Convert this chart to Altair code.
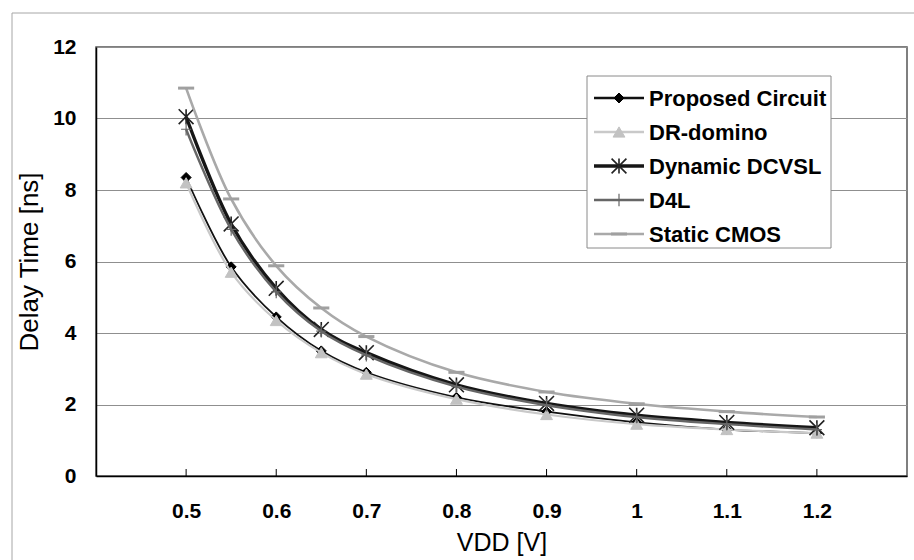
import altair as alt
import pandas as pd

# Supply voltage sweep (V) and delay per logic style (ns)
VDD = [0.5, 0.55, 0.6, 0.65, 0.7, 0.8, 0.9, 1.0, 1.1, 1.2]
PROPOSED = [8.35, 5.85, 4.45, 3.5, 2.9, 2.2, 1.8, 1.5, 1.3, 1.2]
DR_DOMINO = [8.2, 5.7, 4.35, 3.45, 2.85, 2.15, 1.72, 1.45, 1.3, 1.2]
DCVSL = [10.05, 7.05, 5.25, 4.1, 3.45, 2.55, 2.03, 1.7, 1.5, 1.35]
D4L = [9.7, 6.9, 5.15, 4.05, 3.38, 2.5, 1.98, 1.65, 1.45, 1.3]
STATIC_CMOS = [10.85, 7.75, 5.88, 4.7, 3.9, 2.9, 2.35, 2.02, 1.8, 1.65]
SERIES = ["Proposed Circuit", "DR-domino", "Dynamic DCVSL", "D4L", "Static CMOS"]
X_TICKS = [0.5, 0.6, 0.7, 0.8, 0.9, 1.0, 1.1, 1.2]
Y_TICKS = [0, 2, 4, 6, 8, 10, 12]

W, H = 811, 429
FONT = "Liberation Sans"

ASTERISK = "M-1,-1L1,1M-1,1L1,-1M0,-1L0,1"
PLUS = "M0,-1L0,1M-0.8,0L0.8,0"
DASH = "M-1,0L1,0"

STYLE = {
    "Proposed Circuit": dict(line="#111111", lw=1.8, shape="diamond", filled=True,
                             mc="#000000", size=100, msw=1),
    "DR-domino": dict(line="#c9c9c9", lw=2.2, shape="triangle-up", filled=True,
                      mc="#c2c2c2", size=140, msw=1),
    "Dynamic DCVSL": dict(line="#161616", lw=3.4, shape=ASTERISK, filled=False,
                          mc="#222222", size=220, msw=1.6),
    "D4L": dict(line="#666666", lw=2.4, shape=PLUS, filled=False,
                mc="#666666", size=160, msw=1.2),
    "Static CMOS": dict(line="#a9a9a9", lw=2.6, shape=DASH, filled=False,
                        mc="#a0a0a0", size=260, msw=3),
}

values = dict(zip(SERIES, [PROPOSED, DR_DOMINO, DCVSL, D4L, STATIC_CMOS]))

x_enc = alt.X(
    "vdd:Q",
    scale=alt.Scale(domain=[0.4, 1.3], nice=False, zero=False),
    axis=alt.Axis(values=X_TICKS, format=".1~f", title="VDD [V]", grid=False,
                  ticks=False, labelPadding=24, titlePadding=9,
                  domainColor="#000000", domainWidth=1.5, titleFontSize=25),
)
y_enc = alt.Y(
    "delay:Q",
    scale=alt.Scale(domain=[0, 12], nice=False),
    axis=alt.Axis(values=Y_TICKS, title="Delay Time [ns]", grid=True,
                  ticks=False, labelPadding=20, titlePadding=10,
                  domainColor="#000000", domainWidth=1.5, titleFontSize=26),
)

layers = []

# outer chart frame
layers.append(
    alt.Chart(alt.Data(values=[{"k": 0}])).mark_rect(
        fillOpacity=0, stroke="#a6a6a6", strokeWidth=1
    ).encode(x=alt.value(-84), x2=alt.value(W + 30), y=alt.value(-34), y2=alt.value(H + 120))
)

# inward tick marks on the x axis
layers.append(
    alt.Chart(pd.DataFrame({"vdd": X_TICKS})).mark_rule(color="#000000", strokeWidth=1).encode(
        x=x_enc, y=alt.value(H - 7), y2=alt.value(H)
    )
)


def marker_props(st):
    pt = dict(shape=st["shape"], size=st["size"], filled=st["filled"], opacity=1,
              strokeWidth=st["msw"])
    if st["filled"]:
        pt.update(fill=st["mc"], stroke=st["mc"])
    else:
        pt.update(stroke=st["mc"])
    return pt


for name in SERIES:
    st = STYLE[name]
    df = pd.DataFrame({"vdd": VDD, "delay": values[name]})
    base = alt.Chart(df).encode(x=x_enc, y=y_enc)
    layers.append(
        base.mark_line(color=st["line"], strokeWidth=st["lw"], interpolate="catmull-rom")
    )
    layers.append(base.mark_point(**marker_props(st)))

# legend box
LX0, LX1, LY0, LY1 = 491, 735, 29, 201
layers.append(
    alt.Chart(alt.Data(values=[{"k": 0}])).mark_rect(
        fill="#ffffff", stroke="#8a8a8a", strokeWidth=1
    ).encode(x=alt.value(LX0), x2=alt.value(LX1), y=alt.value(LY0), y2=alt.value(LY1))
)

for i, name in enumerate(SERIES):
    st = STYLE[name]
    ry = 51 + i * 34
    one = alt.Chart(alt.Data(values=[{"label": name}]))
    layers.append(
        one.mark_rule(color=st["line"], strokeWidth=max(st["lw"], 2.4)).encode(
            x=alt.value(498), x2=alt.value(548), y=alt.value(ry)
        )
    )
    layers.append(one.mark_point(**marker_props(st)).encode(x=alt.value(523), y=alt.value(ry)))
    layers.append(
        one.mark_text(align="left", baseline="middle", font=FONT, fontSize=22,
                      fontWeight="bold", color="#000000").encode(
            x=alt.value(553), y=alt.value(ry + 1), text="label:N"
        )
    )

chart = (
    alt.layer(*layers)
    .properties(width=W, height=H, padding={"left": 96, "top": 47, "right": 7, "bottom": 84},
                autosize=alt.AutoSizeParams(type="none"), background="#ffffff")
    .configure_view(stroke="#555555", strokeWidth=1.5)
    .configure_axis(
        labelFont=FONT, labelFontSize=21, labelFontWeight="bold", labelColor="#000000",
        titleFont=FONT, titleFontWeight="normal", titleColor="#000000",
        gridColor="#8f8f8f", gridWidth=1,
    )
)

chart.save("out.html", embed_options={"renderer": "svg", "actions": False})
